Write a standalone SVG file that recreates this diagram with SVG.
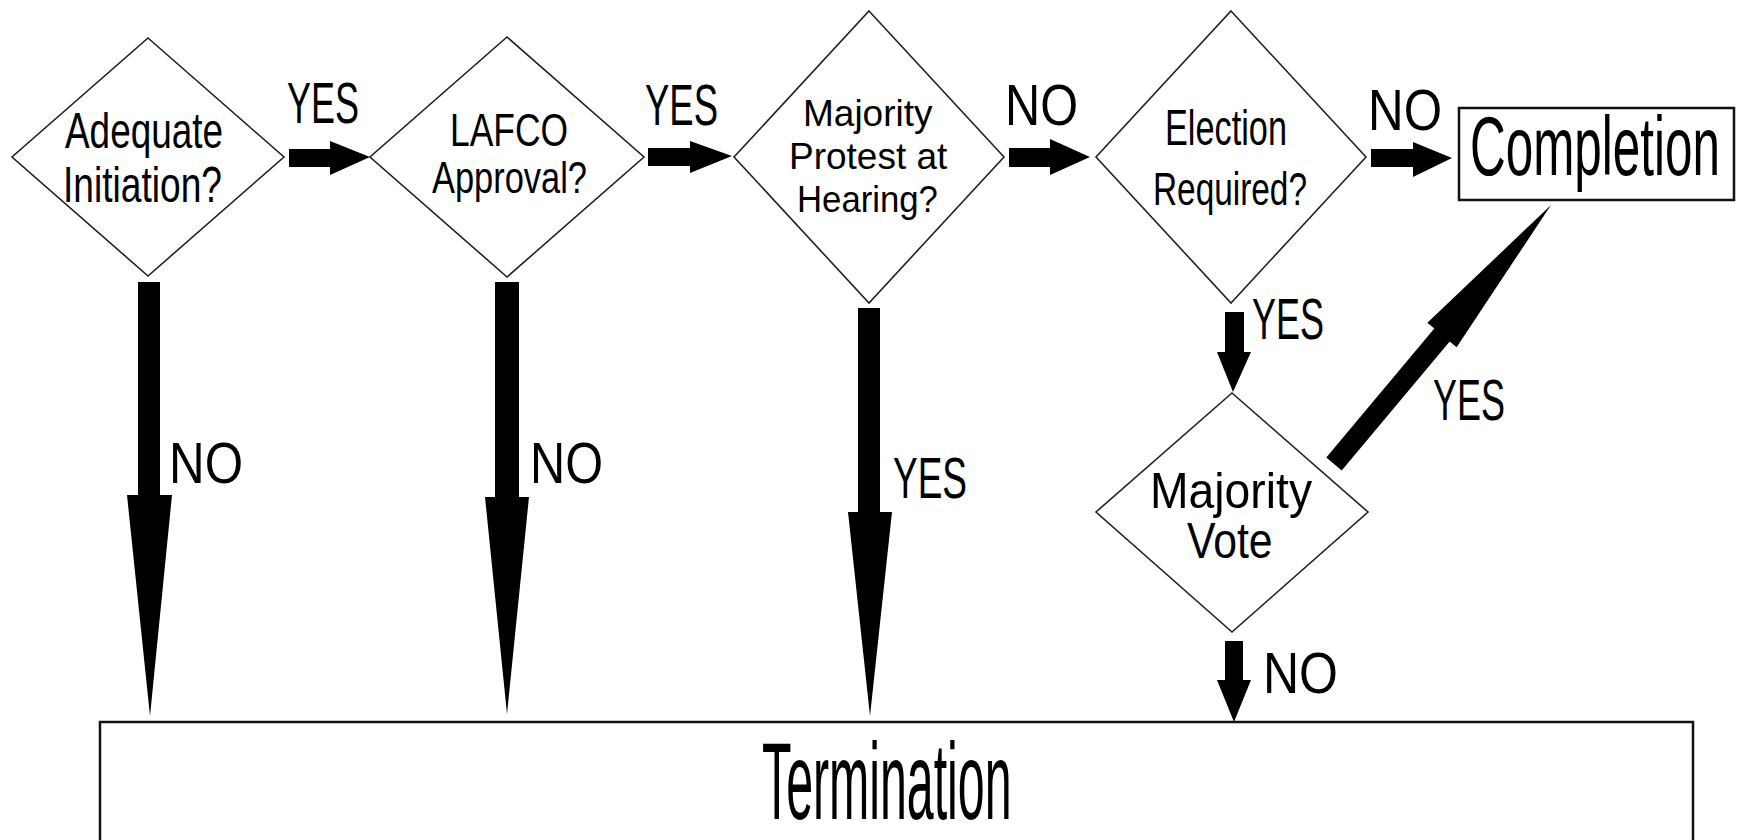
<svg xmlns="http://www.w3.org/2000/svg" width="1741" height="840" viewBox="0 0 1741 840">
<style>
.bg{fill:#ffffff}
.dia{fill:#ffffff;stroke:#222222;stroke-width:1.6}
.box{fill:#ffffff;stroke:#111111;stroke-width:2.5}
.arr{fill:#000000}
text{font-family:"Liberation Sans",Arial,sans-serif;fill:#000000}
.lbl{font-size:58px}
</style>
<rect class="bg" x="0" y="0" width="1741" height="840"/>
<g id="connectors">
<polygon class="arr" points="289,149 330,149 330,141 370,157 330,175 330,167 289,167"/>
<polygon class="arr" points="648,148 690,148 690,141 732,156 690,173 690,166 648,166"/>
<polygon class="arr" points="1009,148 1050,148 1050,139 1090,157 1050,175 1050,167 1009,167"/>
<polygon class="arr" points="1371,149 1413,149 1413,142 1452,158 1413,177 1413,167 1371,167"/>
<polygon class="arr" points="138,282 160,282 160,495 172,495 150,716 127,495 138,495"/>
<polygon class="arr" points="495,282 519,282 519,497 529,497 507,714 485,497 495,497"/>
<polygon class="arr" points="858,308 880,308 880,512 892,512 870,716 848,512 858,512"/>
<polygon class="arr" points="1225,312 1244,312 1244,352 1251,352 1233,392 1217,352 1225,352"/>
<polygon class="arr" points="1225,641 1243,641 1243,680 1251,680 1234,722 1217,680 1225,680"/>
<polygon class="arr" points="1326.3,457.6 1434.3,328.6 1427.4,322.8 1551,205 1456.6,347.2 1449.7,341.4 1341.7,470.4"/>
<text class="lbl" x="287" y="123" textLength="72" lengthAdjust="spacingAndGlyphs">YES</text>
<text class="lbl" x="645" y="125" textLength="73" lengthAdjust="spacingAndGlyphs">YES</text>
<text class="lbl" x="1005" y="125" textLength="73" lengthAdjust="spacingAndGlyphs">NO</text>
<text class="lbl" x="1368" y="130" textLength="74" lengthAdjust="spacingAndGlyphs">NO</text>
<text class="lbl" x="169" y="483" textLength="74" lengthAdjust="spacingAndGlyphs">NO</text>
<text class="lbl" x="530" y="483" textLength="73" lengthAdjust="spacingAndGlyphs">NO</text>
<text class="lbl" x="893" y="498" textLength="74" lengthAdjust="spacingAndGlyphs">YES</text>
<text class="lbl" x="1252" y="339" textLength="72" lengthAdjust="spacingAndGlyphs">YES</text>
<text class="lbl" x="1263" y="693" textLength="75" lengthAdjust="spacingAndGlyphs">NO</text>
<text class="lbl" x="1433" y="420" textLength="72" lengthAdjust="spacingAndGlyphs">YES</text>
</g>
<g id="adequate-initiation">
<polygon class="dia" points="148,38 284,157 148,276 12,157"/>
<text x="65" y="148" font-size="50" textLength="158" lengthAdjust="spacingAndGlyphs">Adequate</text>
<text x="63" y="202" font-size="50" textLength="159" lengthAdjust="spacingAndGlyphs">Initiation?</text>
</g>
<g id="lafco-approval">
<polygon class="dia" points="507,37 644,157 507,277 370,157"/>
<text x="450" y="146" font-size="46" textLength="118" lengthAdjust="spacingAndGlyphs">LAFCO</text>
<text x="432" y="193" font-size="44" textLength="155" lengthAdjust="spacingAndGlyphs">Approval?</text>
</g>
<g id="majority-protest">
<polygon class="dia" points="869,11 1004,157 869,303 734,157"/>
<text x="803" y="126" font-size="37">Majority</text>
<text x="789" y="169" font-size="37">Protest at</text>
<text x="0" y="0" font-size="37" transform="translate(797,212) scale(0.939,1)">Hearing?</text>
</g>
<g id="election-required">
<polygon class="dia" points="1231,11 1366,157 1231,303 1096,157"/>
<text x="1165" y="145" font-size="50" textLength="122" lengthAdjust="spacingAndGlyphs">Election</text>
<text x="1153" y="205" font-size="46" textLength="154" lengthAdjust="spacingAndGlyphs">Required?</text>
</g>
<g id="majority-vote">
<polygon class="dia" points="1232,393 1368,512 1232,632 1096,512"/>
<text x="0" y="0" font-size="50" transform="translate(1150,508) scale(0.926,1)">Majority</text>
<text x="0" y="0" font-size="50" transform="translate(1187,558) scale(0.855,1)">Vote</text>
</g>
<g id="completion">
<rect class="box" x="1459" y="108" width="275" height="92"/>
<text x="0" y="0" font-size="84" transform="translate(1470,175) scale(0.5885,1)">Completion</text>
</g>
<g id="termination">
<rect class="box" x="100" y="722" width="1593" height="130"/>
<text x="0" y="0" font-size="109" transform="translate(762,819) scale(0.443,1)">Termination</text>
</g>
</svg>
